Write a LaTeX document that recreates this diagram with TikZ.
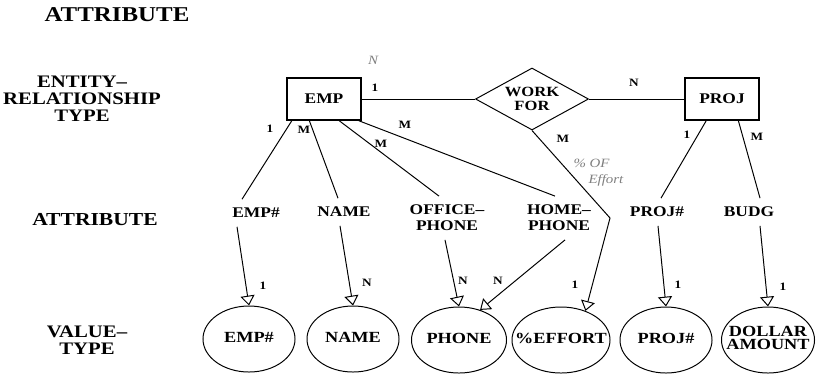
\documentclass[tikz,border=0pt]{standalone}
\usepackage{fontspec}
\setmainfont[FakeStretch=1.18]{Liberation Serif}
\usetikzlibrary{shapes.geometric,arrows.meta,calc}

% text that does not widen the ellipse round it
\newcommand{\vtxt}[1]{\makebox[0pt]{\begin{tabular}{@{}c@{}}#1\end{tabular}}}

\begin{document}
\begin{tikzpicture}[x=0.025cm, y=-0.025cm, line width=0.7pt,
        entity/.style={draw, line width=1pt, minimum width=1.85cm, minimum height=1.05cm,
            font=\bfseries\fontsize{10.5}{11}\selectfont},
        rel/.style={draw, diamond, aspect=1.8, minimum width=2.825cm, minimum height=1.55cm,
            inner sep=0pt, align=center, font=\bfseries\fontsize{10}{10.4}\selectfont},
        attr/.style={align=center, inner xsep=1pt, inner ysep=6pt,
            font=\bfseries\fontsize{10.5}{11.4}\selectfont},
        vtype/.style={draw, ellipse, minimum width=2.3cm, minimum height=1.65cm, inner sep=0pt,
            font=\bfseries\fontsize{11}{11.4}\selectfont},
        side/.style={align=center, font=\bfseries\fontsize{12.5}{12}\selectfont},
        card/.style={inner sep=0pt, font=\bfseries\fontsize{8}{8}\selectfont},
        hnote/.style={inner sep=0pt, text=black!50, font=\itshape\fontsize{9}{9}\selectfont},
        maps/.style={-{Triangle[open, length=7pt, width=10pt]}}]
    \useasboundingbox (0, 0) rectangle (820, 383);

    % row labels
    \node[side, font=\bfseries\fontsize{15}{15}\selectfont] (ttl) at (117, 15) {ATTRIBUTE};
    \node[side] (lent) at (82, 99) {ENTITY--\\RELATIONSHIP\\TYPE};
    \node[side, font=\bfseries\fontsize{13}{13}\selectfont] (lattr) at (95, 220) {ATTRIBUTE};
    \node[side] (lval) at (87, 340) {VALUE--\\TYPE};

    % entity-relationship types
    \node[entity] (emp) at (324, 99) {EMP};
    \node[rel] (work) at (532, 99) {WORK\\FOR};
    \node[entity] (proj) at (722, 99) {PROJ};
    \draw (emp) -- (work);
    \draw (work) -- (proj);
    \node[card] (c1) at (375, 88) {1};
    \node[card] (c2) at (634, 83) {N};

    % attributes
    \node[attr] (aemp) at (256, 213) {EMP\#};
    \node[attr] (aname) at (344, 212) {NAME};
    \node[attr] (aoff) at (447, 218) {OFFICE--\\PHONE};
    \node[attr] (ahome) at (559, 218) {HOME--\\PHONE};
    \node[attr] (aproj) at (657, 212) {PROJ\#};
    \node[attr] (abudg) at (749, 212) {BUDG};
    \coordinate (effbend) at (610, 218);

    \draw (emp.214) -- ($(aemp.north)+(-14, 0)$);
    \draw (emp.236) -- ($(aname.north)+(-6, 0)$);
    \draw (emp.305) -- ($(aoff.north)+(-8, 0)$);
    \draw (emp.328) -- ($(ahome.north)+(-4, 0)$);
    \draw (proj.234) -- ($(aproj.north)+(4, 0)$);
    \draw (proj.307) -- ($(abudg.north)+(11, 0)$);

    \node[card] (c3) at (270, 129) {1};
    \node[card] (c4) at (304, 130) {M};
    \node[card] (c5) at (381, 144) {M};
    \node[card] (c6) at (405, 125) {M};
    \node[card] (c7) at (563, 139) {M};
    \node[card] (c8) at (687, 135) {1};
    \node[card] (c9) at (757, 137) {M};

    % value types
    \node[vtype] (vemp) at (249, 339) {\vtxt{EMP\#}};
    \node[vtype] (vname) at (353, 339) {\vtxt{NAME}};
    \node[vtype, minimum width=2.375cm] (vphone) at (459, 340) {\vtxt{PHONE}};
    \node[vtype, minimum width=2.45cm] (veff) at (561, 340) {\vtxt{\%EFFORT}};
    \node[vtype] (vproj) at (666, 340) {\vtxt{PROJ\#}};
    \node[vtype, minimum width=2.325cm] (vdoll) at (768, 340) {\vtxt{DOLLAR\\[-2pt]AMOUNT}};

    \draw[maps] ($(aemp.south)+(-19, 0)$) -- (vemp.north);
    \draw[maps] ($(aname.south)+(-4, 0)$) -- (vname.north);
    \draw[maps] ($(aoff.south)+(-2, 0)$) -- (vphone.north);
    \draw[maps] ($(ahome.south)+(6, 0)$) -- (vphone.55);
    \draw[maps] (work.south) -- (effbend) -- (veff.50);
    \draw[maps] ($(aproj.south)+(1, 0)$) -- (vproj.north);
    \draw[maps] ($(abudg.south)+(11, 0)$) -- (vdoll.north);

    \node[card] (c10) at (263, 286) {1};
    \node[card] (c11) at (367, 283) {N};
    \node[card] (c12) at (463, 281) {N};
    \node[card] (c13) at (498, 281) {N};
    \node[card] (c14) at (575, 285) {1};
    \node[card] (c15) at (678, 285) {1};
    \node[card] (c16) at (783, 287) {1};

    % pencil notes
    \node[hnote] (h1) at (373, 60) {N};
    \node[hnote, anchor=west] (h2) at (573, 163) {\% OF};
    \node[hnote, anchor=west] (h3) at (588, 180) {Effort};
\end{tikzpicture}
\end{document}
